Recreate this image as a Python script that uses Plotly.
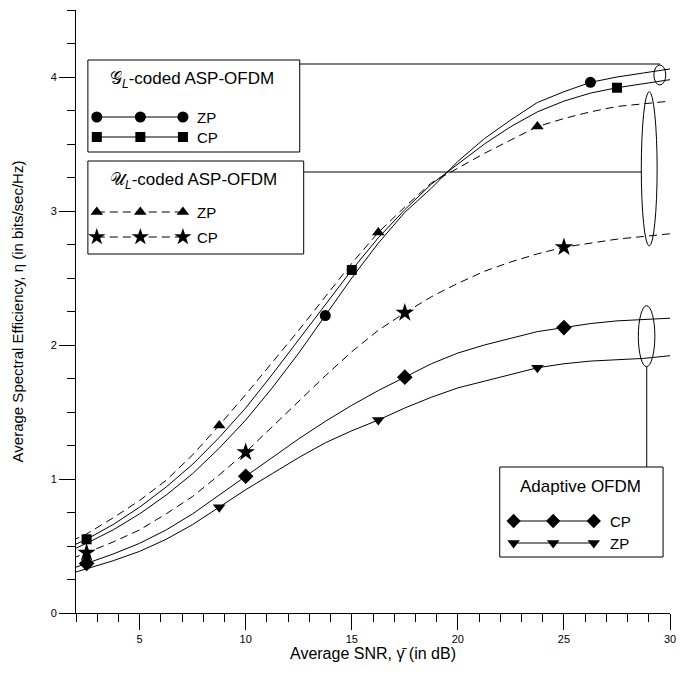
import plotly.graph_objects as go

# ---------------- data ----------------
snr = [1.25, 2.5, 3.75, 5, 6.25, 7.5, 8.75, 10, 11.25, 12.5, 13.75, 15,
       16.25, 17.5, 18.75, 20, 21.25, 22.5, 23.75, 25, 26.25, 27.5, 28.75, 30]

gl_zp = [0.43, 0.52, 0.62, 0.74, 0.88, 1.04, 1.23, 1.44, 1.68, 1.94, 2.22, 2.50,
         2.76, 2.99, 3.17, 3.37, 3.54, 3.68, 3.81, 3.89, 3.96, 4.00, 4.03, 4.06]
gl_cp = [0.46, 0.55, 0.66, 0.79, 0.94, 1.11, 1.31, 1.53, 1.78, 2.04, 2.30, 2.56,
         2.80, 3.01, 3.20, 3.35, 3.50, 3.63, 3.74, 3.82, 3.88, 3.92, 3.95, 3.98]
ul_zp = [0.50, 0.59, 0.71, 0.84, 0.99, 1.18, 1.40, 1.63, 1.87, 2.11, 2.36, 2.61,
         2.84, 3.03, 3.21, 3.32, 3.43, 3.53, 3.63, 3.69, 3.74, 3.78, 3.80, 3.82]
ul_cp = [0.37, 0.45, 0.53, 0.62, 0.74, 0.87, 1.03, 1.20, 1.39, 1.58, 1.77, 1.95,
         2.11, 2.24, 2.36, 2.46, 2.55, 2.62, 2.68, 2.73, 2.76, 2.79, 2.81, 2.83]
ad_cp = [0.30, 0.37, 0.44, 0.52, 0.62, 0.74, 0.88, 1.02, 1.16, 1.30, 1.43, 1.55,
         1.66, 1.76, 1.86, 1.94, 2.00, 2.05, 2.10, 2.13, 2.16, 2.18, 2.19, 2.20]
ad_zp = [0.27, 0.33, 0.39, 0.46, 0.55, 0.66, 0.79, 0.92, 1.04, 1.16, 1.27, 1.36,
         1.44, 1.53, 1.61, 1.68, 1.73, 1.78, 1.83, 1.86, 1.88, 1.89, 1.90, 1.92]

# SNR values at which each curve carries a marker
gl_zp_marks = [13.75, 26.25]
gl_cp_marks = [2.5, 15, 27.5]
ul_zp_marks = [8.75, 16.25, 23.75]
ul_cp_marks = [2.5, 10, 17.5, 25]
ad_cp_marks = [2.5, 10, 17.5, 25]
ad_zp_marks = [8.75, 16.25, 23.75]

x_tick_vals = [5, 10, 15, 20, 25, 30]
y_tick_vals = [0, 1, 2, 3, 4]

# ---------------- layout helpers ----------------
W, H = 686, 675
ML, MR, MT, MB = 76, 10, 10, 62
XR = (2, 30)
YR = (0, 4.5)
PW, PH = W - ML - MR, H - MT - MB


def fx(px):
    return XR[0] + (px - ML) * (XR[1] - XR[0]) / PW


def fy(py):
    return YR[0] + (MT + PH - py) * (YR[1] - YR[0]) / PH


FONT = "Liberation Sans, Arial, sans-serif"
DASH = "8px,5px"

series = [
    (gl_zp, gl_zp_marks, "circle", 11, "solid"),
    (gl_cp, gl_cp_marks, "square", 10, "solid"),
    (ul_zp, ul_zp_marks, "triangle-up", 11, DASH),
    (ul_cp, ul_cp_marks, "star", 14, DASH),
    (ad_cp, ad_cp_marks, "diamond", 12, "solid"),
    (ad_zp, ad_zp_marks, "triangle-down", 11, "solid"),
]

fig = go.Figure()
for ys, marks, sym, size, dash in series:
    fig.add_trace(go.Scatter(x=snr, y=ys, mode="lines",
                             line=dict(color="black", width=1, dash=dash),
                             showlegend=False, hoverinfo="skip"))
    mx = [x for x in snr if x in marks]
    my = [y for x, y in zip(snr, ys) if x in marks]
    fig.add_trace(go.Scatter(x=mx, y=my, mode="markers",
                             marker=dict(symbol=sym, size=size, color="black"),
                             showlegend=False, cliponaxis=False))

shapes = []
annotations = []


def box(x0, y0, x1, y1):
    shapes.append(dict(type="rect", xref="x", yref="y",
                       x0=fx(x0), x1=fx(x1), y0=fy(y1), y1=fy(y0),
                       line=dict(color="black", width=1), fillcolor="white",
                       layer="below"))


def hline(x0, x1, y):
    shapes.append(dict(type="line", xref="x", yref="y", x0=fx(x0), x1=fx(x1),
                       y0=fy(y), y1=fy(y), line=dict(color="black", width=1)))


def ellipse(x0, y0, x1, y1):
    shapes.append(dict(type="circle", xref="x", yref="y", x0=fx(x0), x1=fx(x1),
                       y0=fy(y1), y1=fy(y0), line=dict(color="black", width=1)))


def text(px, py, s, size, anchor="center"):
    annotations.append(dict(x=fx(px), y=fy(py), xref="x", yref="y", text=s,
                            showarrow=False, xanchor=anchor, yanchor="middle",
                            font=dict(family=FONT, size=size, color="black")))


def sample(xs_px, py, sym, size, dash, label, lx):
    fig.add_trace(go.Scatter(x=[fx(p) for p in xs_px], y=[fy(py)] * len(xs_px),
                             mode="lines+markers",
                             line=dict(color="black", width=1, dash=dash),
                             marker=dict(symbol=sym, size=size, color="black"),
                             showlegend=False, hoverinfo="skip", cliponaxis=False))
    text(lx, py, label, 15, "left")


# connectors and ellipses
hline(302, 666, 64)
hline(306, 647, 172)
shapes.append(dict(type="line", xref="x", yref="y", x0=fx(652.5), x1=fx(652.5),
                   y0=fy(366.7), y1=fy(467), line=dict(color="black", width=1)))
ellipse(659.7, 65, 671.7, 85)
ellipse(647, 91.7, 663, 246)
ellipse(644, 305.7, 660.7, 366.7)

# legend boxes
box(88, 60, 302, 152)
box(88, 161, 306, 254)
box(504, 467, 669, 557)

text(193, 80, "𝒢<sub><i>L</i></sub>-coded ASP-OFDM", 17)
text(195, 181, "𝒰<sub><i>L</i></sub>-coded ASP-OFDM", 17)
text(586, 486, "Adaptive OFDM", 17)

sample([97, 141, 184], 117, "circle", 11, "solid", "ZP", 196)
sample([97, 141, 184], 137, "square", 10, "solid", "CP", 196)
sample([97, 141, 184], 212, "triangle-up", 11, DASH, "ZP", 196)
sample([97, 141, 184], 237, "star", 13, DASH, "CP", 196)
sample([518, 558, 599], 521, "diamond", 11, "solid", "CP", 613)
sample([518, 558, 599], 543, "triangle-down", 11, "solid", "ZP", 613)

axis_common = dict(showline=True, linecolor="black", linewidth=1,
                   ticks="outside", ticklen=16, tickwidth=1, tickcolor="black",
                   showgrid=False, zeroline=False, ticklabeloverflow="allow",
                   tickfont=dict(family=FONT, size=11, color="black"))

fig.update_layout(
    width=W, height=H,
    margin=dict(l=ML, r=MR, t=MT, b=MB),
    paper_bgcolor="white", plot_bgcolor="white",
    shapes=shapes, annotations=annotations,
    xaxis=dict(range=list(XR), tickmode="array", tickvals=x_tick_vals,
               minor=dict(ticks="outside", ticklen=8, tickcolor="black",
                          dtick=1, tick0=0),
               title=dict(text="Average SNR, γ̄ (in dB)",
                          font=dict(family=FONT, size=16, color="black"),
                          standoff=2),
               **axis_common),
    yaxis=dict(range=list(YR), tickmode="array", tickvals=y_tick_vals,
               minor=dict(ticks="outside", ticklen=8, tickcolor="black",
                          dtick=0.25, tick0=0),
               title=dict(text="Average Spectral Efficiency, η (in bits/sec/Hz)",
                          font=dict(family=FONT, size=15, color="black"),
                          standoff=23),
               **axis_common),
)

fig.write_html("out.html",
               config={"displayModeBar": False},
               post_script="document.body.style.margin='0';"
                           "document.body.style.overflow='hidden';")
